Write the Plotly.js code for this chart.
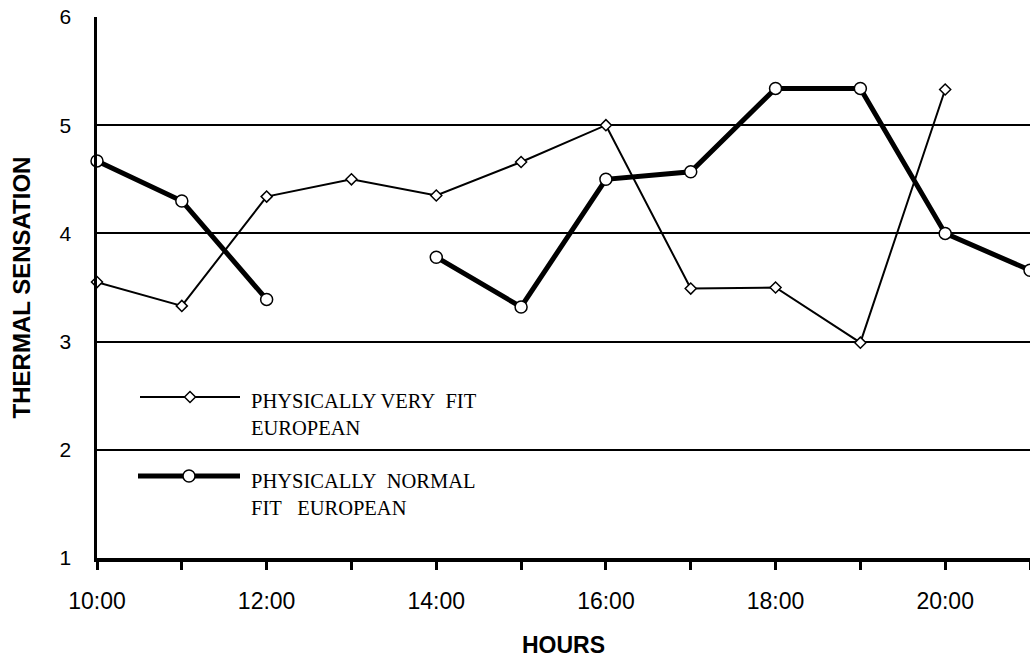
<!DOCTYPE html>
<html>
<head>
<meta charset="utf-8">
<script src="https://cdn.plot.ly/plotly-3.0.1.min.js"></script>
<style>
html,body{margin:0;padding:0;background:#fff;overflow:hidden;}
#chart{width:1030px;height:658px;}
</style>
</head>
<body>
<div id="chart"></div>
<script>
// Hours (decimal) and tick labels
const hours = [10, 11, 12, 13, 14, 15, 16, 17, 18, 19, 20, 21];
const tickLabels = ["10:00", "", "12:00", "", "14:00", "", "16:00", "", "18:00", "", "20:00", ""];
const yTicks = [1, 2, 3, 4, 5, 6];

// Series values (thermal sensation)
const veryFitName = "PHYSICALLY VERY FIT EUROPEAN";
const veryFit = [3.55, 3.33, 4.34, 4.5, 4.35, 4.66, 5.0, 3.49, 3.5, 2.99, 5.33, null];
const normalFitName = "PHYSICALLY NORMAL FIT EUROPEAN";
const normalFit = [4.67, 4.3, 3.39, null, 3.78, 3.32, 4.5, 4.57, 5.34, 5.34, 4.0, 3.66];

const traces = [
  {
    x: hours, y: veryFit, name: veryFitName, type: "scatter", mode: "lines+markers",
    line: {color: "#000", width: 2},
    marker: {symbol: "diamond", size: 8.5, color: "#fff", line: {color: "#000", width: 1.5}},
    cliponaxis: false, connectgaps: false, showlegend: false
  },
  {
    x: hours, y: normalFit, name: normalFitName, type: "scatter", mode: "lines+markers",
    line: {color: "#000", width: 5},
    marker: {symbol: "circle", size: 12, color: "#fff", line: {color: "#000", width: 1.5}},
    cliponaxis: false, connectgaps: false, showlegend: false
  }
];

// Legend keys (drawn as layout decorations, positions in paper coordinates)
const legY1 = (558 - 397) / 541, legY2 = (558 - 476) / 541;
const px = v => (v - 97) / 933;
const shapes = [
  {type: "line", xref: "paper", yref: "paper", x0: px(140), x1: px(240), y0: legY1, y1: legY1, line: {color: "#000", width: 2}},
  {type: "path", xref: "paper", yref: "paper", xsizemode: "pixel", ysizemode: "pixel", xanchor: px(190), yanchor: legY1,
   path: "M-5.5,0 L0,5.5 L5.5,0 L0,-5.5 Z", fillcolor: "#fff", line: {color: "#000", width: 1.5}},
  {type: "line", xref: "paper", yref: "paper", x0: px(138), x1: px(240), y0: legY2, y1: legY2, line: {color: "#000", width: 5}},
  {type: "circle", xref: "paper", yref: "paper", xsizemode: "pixel", ysizemode: "pixel", xanchor: px(189), yanchor: legY2,
   x0: -6, x1: 6, y0: -6, y1: 6, fillcolor: "#fff", line: {color: "#000", width: 1.5}}
];
const legFont = {family: "Liberation Serif, Times New Roman, serif", size: 20.5, color: "#000"};
const annotations = [
  {xref: "paper", yref: "paper", x: px(249), y: legY1, xanchor: "left", yanchor: "top", yshift: 9, align: "left",
   showarrow: false, text: "PHYSICALLY VERY\u00a0 FIT<br>EUROPEAN", font: legFont},
  {xref: "paper", yref: "paper", x: px(249), y: legY2, xanchor: "left", yanchor: "top", yshift: 8, align: "left",
   showarrow: false, text: "PHYSICALLY\u00a0 NORMAL<br>FIT\u00a0\u00a0 EUROPEAN", font: legFont}
];

const layout = {
  width: 1030, height: 658,
  margin: {l: 97, r: 0, t: 17, b: 100, pad: 0},
  paper_bgcolor: "#fff", plot_bgcolor: "#fff",
  showlegend: false,
  font: {family: "Liberation Sans, Arial, sans-serif", color: "#000"},
  xaxis: {
    range: [10, 21.0], tickmode: "array", tickvals: hours, ticktext: tickLabels,
    showgrid: false, zeroline: false,
    showline: true, linecolor: "#000", linewidth: 4,
    ticks: "outside", ticklen: 8, tickwidth: 3, tickcolor: "#000",
    ticklabelstandoff: 11,
    tickfont: {size: 23, color: "#000"},
    title: {text: "<b>HOURS</b>", font: {size: 23, color: "#000"}, standoff: 25}
  },
  yaxis: {
    range: [1, 6], tickmode: "array", tickvals: yTicks, ticktext: yTicks.map(String),
    showgrid: true, gridcolor: "#000", gridwidth: 2,
    zeroline: false, showline: true, linecolor: "#000", linewidth: 3.5,
    ticks: "", ticklabelstandoff: 18,
    tickfont: {size: 21, color: "#000"},
    title: {text: "<b>THERMAL SENSATION</b>", font: {size: 24, color: "#000"}, standoff: 23}
  },
  shapes: shapes,
  annotations: annotations
};

Plotly.newPlot("chart", traces, layout, {displayModeBar: false, staticPlot: true});
</script>
</body>
</html>
